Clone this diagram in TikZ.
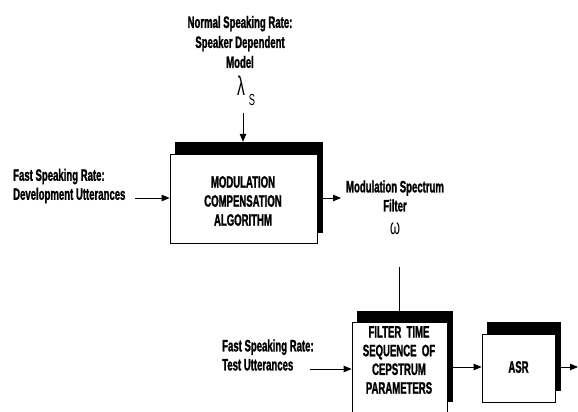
\documentclass[tikz,border=0pt]{standalone}
\usepackage{fontspec}
\setmainfont{Liberation Sans}[FakeStretch=0.58, BoldFeatures={FakeBold=1.3}]
\usetikzlibrary{arrows.meta}
\begin{document}
\begin{tikzpicture}[x=1pt,y=-1pt,
  lbl/.style={font=\fontsize{16.5}{19}\selectfont\bfseries, inner sep=0pt},
  box/.style={draw, fill=white, line width=0.8pt, inner sep=0pt},
  shadowbox/.style={fill=black, inner sep=0pt},
  arr/.style={-{Triangle[length=8pt,width=6.5pt]}, line width=0.8pt},
  ln/.style={line width=0.8pt}]
\useasboundingbox (0,0) rectangle (578,412);
\clip (0,0) rectangle (578,412);

% top labels
\node[lbl, align=center, font=\fontsize{16.5}{20}\selectfont\bfseries] (nsr) at (240,42) {Normal Speaking Rate:\\Speaker Dependent\\Model};
\node[inner sep=0pt, font=\fontsize{27}{27}\selectfont] (lam) at (241,86) {λ};
\node[inner sep=0pt, font=\fontsize{16}{16}\selectfont] (lams) at (252,100) {S};
\coordinate (lamb) at (243,113);

% modulation compensation box
\node[shadowbox, minimum width=148pt, minimum height=91pt] (mcas) at (249,187.5) {};
\node[box, minimum width=147pt, minimum height=89pt] (mca) at (243.5,198.5) {};
\node[lbl, align=center] (mcat) at (243,201) {MODULATION\\COMPENSATION\\ALGORITHM};
\draw[arr] (lamb) -- (lamb |- mcas.north);

% left input
\node[lbl, align=left, anchor=west] (fsr1) at (13,186) {Fast Speaking Rate:\\Development Utterances};
\coordinate (in1) at (135,198);
\draw[arr] (in1) -- (mca.west |- in1);

% output: modulation spectrum filter
\node[lbl, align=center] (msf) at (395,196) {Modulation Spectrum\\Filter};
\node[inner sep=0pt, font=\fontsize{22}{22}\selectfont] (om) at (395,229) {ω};
\coordinate (msfin) at (341,198);
\draw[arr] (mca.east |- msfin) -- (msfin);

% filter box
\node[shadowbox, minimum width=96pt, minimum height=91pt] (fts) at (405,356.5) {};
\node[box, minimum width=95pt, minimum height=98pt] (ft) at (399.5,371) {};
\node[lbl, align=center, font=\fontsize{16.5}{18.7}\selectfont\bfseries] (ftt) at (399,360) {FILTER~~TIME\\SEQUENCE~~OF\\CEPSTRUM\\PARAMETERS};
\coordinate (ftin) at (399,267);
\draw[ln] (ftin) -- (ftin |- fts.north);

% bottom input
\node[lbl, align=left, anchor=west] (fsr2) at (222,355) {Fast Speaking Rate:\\Test Utterances};
\coordinate (in2) at (310,369);
\draw[arr] (in2) -- (ft.west |- in2);

% ASR
\node[shadowbox, minimum width=74pt, minimum height=69pt] (asrs) at (524,356.5) {};
\node[box, minimum width=73pt, minimum height=68pt] (asr) at (518.5,368) {};
\node[lbl] (asrt) at (518.5,367) {ASR};
\coordinate (asrin) at (0,367);
\draw[arr] (ft.east |- asrin) -- (asr.west |- asrin);
\coordinate (out) at (578,367);
\draw[arr] (asr.east |- out) -- (out);
\end{tikzpicture}
\end{document}
